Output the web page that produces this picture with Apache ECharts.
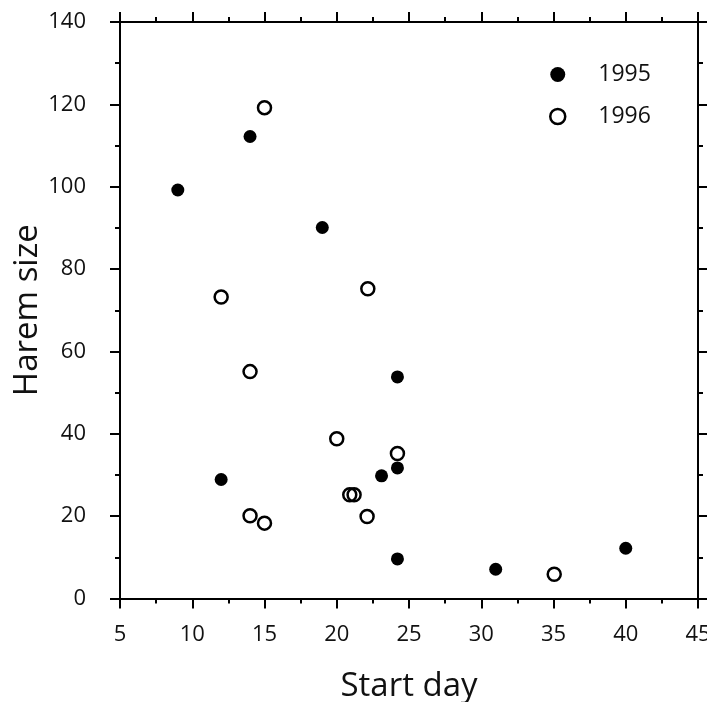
<!DOCTYPE html>
<html>
<head>
<meta charset="utf-8">
<script src="https://cdn.jsdelivr.net/npm/echarts@6/dist/echarts.min.js"></script>
<style>html,body{margin:0;padding:0;background:#fff;}#c{width:707px;height:702px;}</style>
</head>
<body>
<div id="c"></div>
<script>
const seriesNames = ['1995', '1996'];
const start1995 = [9.0, 14.0, 19.0, 24.2, 24.2, 23.1, 12.0, 24.2, 31.0, 40.0];
const harem1995 = [99.2, 112.2, 90.1, 53.8, 31.7, 29.8, 28.9, 9.6, 7.1, 12.2];
const start1996 = [15.0, 12.0, 22.15, 14.0, 20.0, 24.2, 20.9, 21.2, 22.1, 14.0, 15.0, 35.05];
const harem1996 = [119.2, 73.2, 75.2, 55.1, 38.8, 35.2, 25.2, 25.2, 19.9, 20.1, 18.3, 5.9];
const xTicks = [5, 10, 15, 20, 25, 30, 35, 40, 45];
const yTicks = [0, 20, 40, 60, 80, 100, 120, 140];

const font = '"Open Sans", "Noto Sans", sans-serif';
const pair = (xs, ys) => xs.map((x, i) => [x, ys[i]]);
const lineStyle = { color: '#000', width: 2 };
const baseX = {
  type: 'value', min: xTicks[0], max: xTicks[xTicks.length - 1], interval: 5,
  axisLine: { show: true, onZero: false, lineStyle },
  axisTick: { show: true, inside: false, length: 10, lineStyle },
  minorTick: { show: true, splitNumber: 2, length: 5, lineStyle },
  splitLine: { show: false }
};
const baseY = {
  type: 'value', min: yTicks[0], max: yTicks[yTicks.length - 1], interval: 20,
  axisLine: { show: true, onZero: false, lineStyle },
  axisTick: { show: true, inside: false, length: 10, lineStyle },
  minorTick: { show: true, splitNumber: 2, length: 5, lineStyle },
  splitLine: { show: false }
};
const chart = echarts.init(document.getElementById('c'));
chart.setOption({
  animation: false,
  backgroundColor: '#fff',
  grid: { left: 120, right: 9, top: 22, bottom: 103.5, containLabel: false, outerBoundsMode: 'none' },
  legend: {
    orient: 'vertical', left: 544, top: 58, itemWidth: 15, itemHeight: 15, itemGap: 19,
    icon: 'circle',
    textStyle: { fontFamily: font, fontSize: 23, color: '#111', padding: [0, 0, 0, 28] },
    data: [
      { name: seriesNames[0], itemStyle: { color: '#000', borderColor: '#000', borderWidth: 0 } },
      { name: seriesNames[1], itemStyle: { color: '#fff', borderColor: '#000', borderWidth: 2.5 } }
    ]
  },
  xAxis: [
    Object.assign({}, baseX, {
      position: 'bottom', name: 'Start day', nameLocation: 'middle', nameGap: 72,
      nameTextStyle: { fontFamily: font, fontSize: 33, color: '#111' },
      axisLabel: { fontFamily: font, fontSize: 22, color: '#111', margin: 25 }
    }),
    Object.assign({}, baseX, { position: 'top', axisLabel: { show: false } })
  ],
  yAxis: [
    Object.assign({}, baseY, {
      position: 'left', name: 'Harem size', nameLocation: 'middle', nameGap: 76,
      nameMoveOverlap: false,
      nameTextStyle: { fontFamily: font, fontSize: 33, color: '#111' },
      axisLabel: { fontFamily: font, fontSize: 22, color: '#111', margin: 34 }
    }),
    Object.assign({}, baseY, { position: 'right', axisLabel: { show: false } })
  ],
  series: [
    {
      name: seriesNames[0], type: 'scatter', xAxisIndex: 0, yAxisIndex: 0,
      symbol: 'circle', symbolSize: 13,
      itemStyle: { color: '#000', opacity: 1 },
      data: pair(start1995, harem1995)
    },
    {
      name: seriesNames[1], type: 'scatter', xAxisIndex: 0, yAxisIndex: 0,
      symbol: 'circle', symbolSize: 13,
      itemStyle: { color: 'rgba(255,255,255,0)', borderColor: '#000', borderWidth: 2.5, opacity: 1 },
      data: pair(start1996, harem1996)
    }
  ]
});
</script>
</body>
</html>
